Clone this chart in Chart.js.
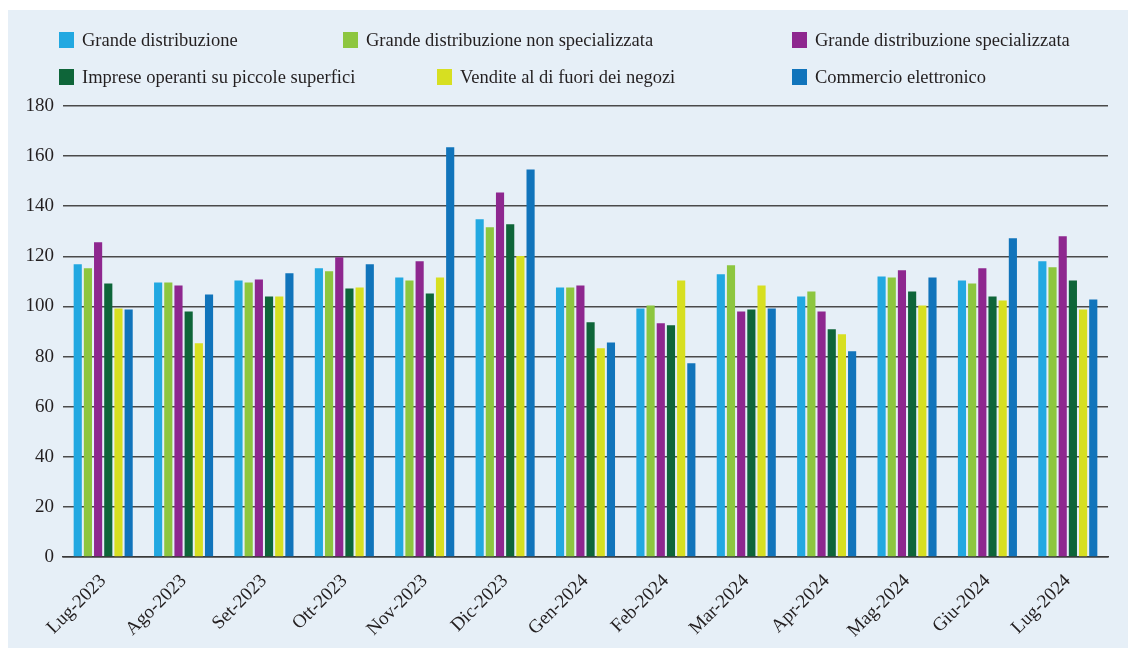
<!DOCTYPE html>
<html lang="it">
<head>
<meta charset="utf-8">
<title>Vendite al dettaglio per forma distributiva</title>
<script src="https://cdn.jsdelivr.net/npm/chart.js@4/dist/chart.umd.min.js"></script>
<style>
    html, body { margin: 0; padding: 0; background: #ffffff; }
    #wrap { position: relative; width: 1128px; height: 648px; overflow: hidden; }
    #panel { position: absolute; left: 8px; top: 10px; right: 0; bottom: 0; background: #e6eff7; }
    #chart { position: absolute; left: 0; top: 0; }
    .legend-item {
        position: absolute;
        font-family: "Liberation Serif", "DejaVu Serif", serif;
        font-size: 18.5px;
        color: #231f20;
        white-space: nowrap;
        line-height: 20px;
    }
    .legend-item span.box {
        display: inline-block;
        width: 15px;
        height: 16px;
        margin-right: 8px;
        vertical-align: -2px;
    }
</style>
</head>
<body>
<div id="wrap">
    <div id="panel"></div>
    <canvas id="chart" width="1128" height="648"></canvas>
    <div id="legend"></div>
</div>
<script>
// Indici mensili per forma distributiva (lug 2023 - lug 2024)
const mesi = ['Lug-2023', 'Ago-2023', 'Set-2023', 'Ott-2023', 'Nov-2023', 'Dic-2023',
              'Gen-2024', 'Feb-2024', 'Mar-2024', 'Apr-2024', 'Mag-2024', 'Giu-2024', 'Lug-2024'];

const grandeDistribuzione      = [116.8, 109.6, 110.4, 115.2, 111.6, 134.8, 107.6, 99.2, 112.8, 104.0, 112.0, 110.4, 118.0];
const grandeNonSpecializzata   = [115.2, 109.6, 109.6, 114.0, 110.4, 131.6, 107.6, 100.4, 116.4, 106.0, 111.6, 109.2, 115.6];
const grandeSpecializzata      = [125.6, 108.4, 110.8, 119.6, 118.0, 145.5, 108.4, 93.3, 98.0, 98.0, 114.4, 115.2, 128.0];
const piccoleSuperfici         = [109.2, 98.0, 104.0, 107.2, 105.2, 132.8, 93.7, 92.5, 98.8, 90.9, 106.0, 104.0, 110.4];
const fuoriNegozi              = [99.2, 85.3, 104.0, 107.6, 111.6, 120.1, 83.3, 110.4, 108.4, 88.9, 100.4, 102.4, 98.8];
const commercioElettronico     = [98.8, 104.8, 113.2, 116.8, 163.5, 154.7, 85.6, 77.3, 99.2, 82.1, 111.6, 127.2, 102.8];

const yTicks = [0, 20, 40, 60, 80, 100, 120, 140, 160, 180];

const serie = [
    { label: 'Grande distribuzione', data: grandeDistribuzione, color: '#22a8e1' },
    { label: 'Grande distribuzione non specializzata', data: grandeNonSpecializzata, color: '#8dc63f' },
    { label: 'Grande distribuzione specializzata', data: grandeSpecializzata, color: '#8e278f' },
    { label: 'Imprese operanti su piccole superfici', data: piccoleSuperfici, color: '#0e6539' },
    { label: 'Vendite al di fuori dei negozi', data: fuoriNegozi, color: '#d7df21' },
    { label: 'Commercio elettronico', data: commercioElettronico, color: '#1174bb' }
];

// Legenda su due righe
const legendPos = [
    { left: 59, top: 30 }, { left: 343, top: 30 }, { left: 792, top: 30 },
    { left: 59, top: 67 }, { left: 437, top: 67 }, { left: 792, top: 67 }
];
const legend = document.getElementById('legend');
serie.forEach((s, i) => {
    const item = document.createElement('div');
    item.className = 'legend-item';
    item.style.left = legendPos[i].left + 'px';
    item.style.top = legendPos[i].top + 'px';
    item.innerHTML = `<span class="box" style="background:${s.color}"></span>${s.label}`;
    legend.appendChild(item);
});

const fontFamily = '"Liberation Serif", "DejaVu Serif", serif';

new Chart(document.getElementById('chart'), {
    type: 'bar',
    data: {
        labels: mesi,
        datasets: serie.map(s => ({
            label: s.label,
            data: s.data,
            backgroundColor: s.color,
            borderWidth: 0,
            categoryPercentage: 0.76,
            barPercentage: 0.8
        }))
    },
    options: {
        responsive: false,
        animation: false,
        layout: { padding: { left: 0, top: 106, right: 20, bottom: 0 } },
        plugins: {
            legend: { display: false },
            tooltip: { enabled: false }
        },
        scales: {
            x: {
                grid: { display: false },
                border: { display: true, color: '#3a3a3a', width: 1.5 },
                ticks: {
                    color: '#231f20',
                    font: { family: fontFamily, size: 19 },
                    minRotation: 45,
                    maxRotation: 45,
                    padding: 5
                },
                afterFit: axis => { axis.height = 91; }
            },
            y: {
                min: 0,
                max: 180,
                border: { display: false },
                grid: { color: '#4a4a4a', lineWidth: 1.5, drawTicks: false },
                afterBuildTicks: axis => { axis.ticks = yTicks.map(v => ({ value: v })); },
                ticks: {
                    color: '#231f20',
                    font: { family: fontFamily, size: 19 },
                    padding: 9
                },
                afterFit: axis => { axis.width = 63; }
            }
        }
    }
});
</script>
</body>
</html>
